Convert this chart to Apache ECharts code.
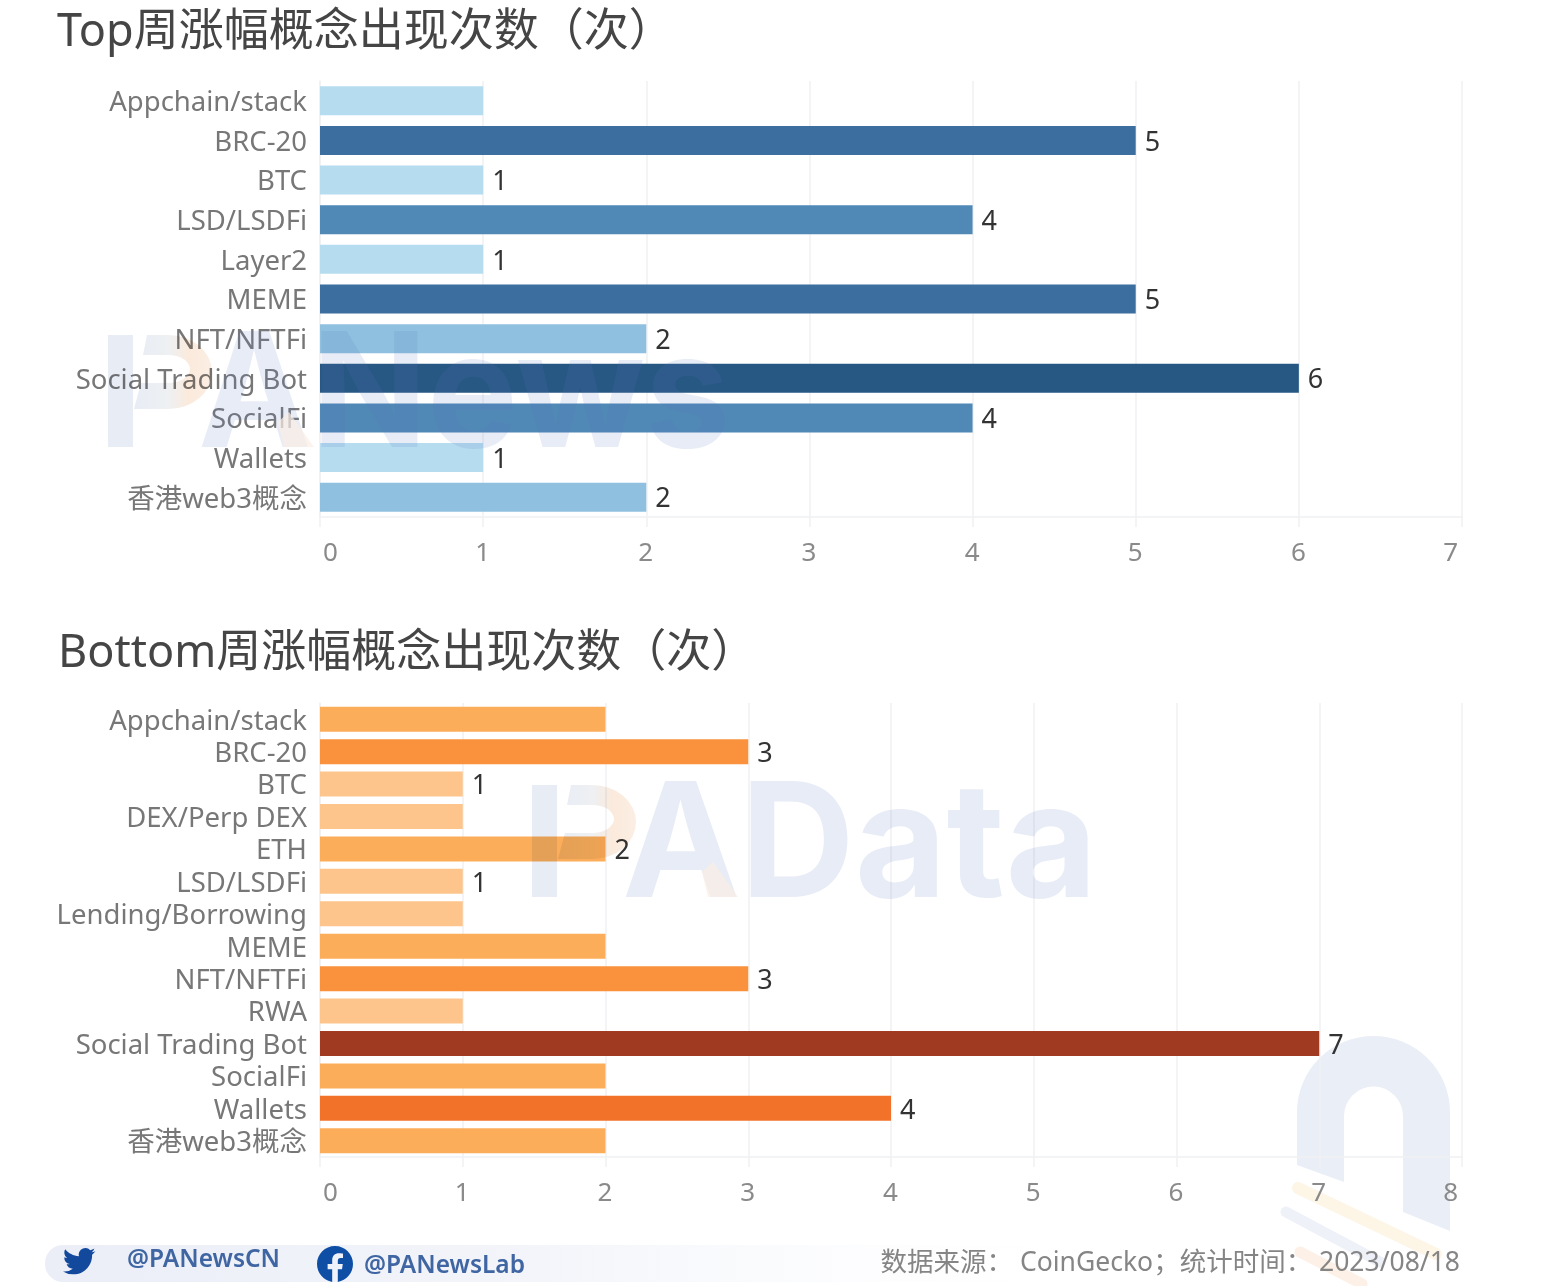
<!DOCTYPE html>
<html><head><meta charset="utf-8">
<style>html,body{margin:0;padding:0;background:#fff}#c{width:1544px;height:1286px}</style>
<script src="https://cdn.jsdelivr.net/npm/echarts@6/dist/echarts.min.js"></script>
</head><body><div id="c"></div>
<script>
const topTitle = 'Top周涨幅概念出现次数（次）';
const bottomTitle = 'Bottom周涨幅概念出现次数（次）';
const topCategories = ['Appchain/stack','BRC-20','BTC','LSD/LSDFi','Layer2','MEME','NFT/NFTFi','Social Trading Bot','SocialFi','Wallets','香港web3概念'];
const topValues = [1,5,1,4,1,5,2,6,4,1,2];
const topLabelled = [false,true,true,true,true,true,true,true,true,true,true];
const bottomCategories = ['Appchain/stack','BRC-20','BTC','DEX/Perp DEX','ETH','LSD/LSDFi','Lending/Borrowing','MEME','NFT/NFTFi','RWA','Social Trading Bot','SocialFi','Wallets','香港web3概念'];
const bottomValues = [2,3,1,1,2,1,1,2,3,1,7,2,4,2];
const bottomLabelled = [false,true,true,false,true,true,false,false,true,false,true,false,true,false];
const topColors = {1:'#b6dcf0',2:'#8fc0e0',4:'#5088b6',5:'#3c6f9f',6:'#275783'};
const bottomColors = {1:'#fdc58b',2:'#fbad5a',3:'#fa923d',4:'#f2722a',7:'#a03a20'};
const topAxisMax = 7, bottomAxisMax = 8;
const sourceText = '数据来源： CoinGecko；统计时间： 2023/08/18';

const FONT = '"Noto Sans","Noto Sans CJK SC",sans-serif';
const GRID = '#f0f1f3';
function xAxis(i,max){return {gridIndex:i,type:'value',min:0,max:max,interval:1,
  axisLine:{show:true,lineStyle:{color:GRID,width:1.5}},axisTick:{show:true,length:10,lineStyle:{color:GRID,width:1.5}},
  splitLine:{show:true,lineStyle:{color:GRID,width:1.5}},
  axisLabel:{fontFamily:FONT,fontSize:26,color:'#8a8a8a',margin:24,padding:[0,4,0,3],alignMinLabel:'left',alignMaxLabel:'right',showMinLabel:true,showMaxLabel:true}};}
function yAxis(i,cats){return {gridIndex:i,type:'category',data:cats,inverse:true,
  axisLine:{show:true,lineStyle:{color:GRID,width:1.5}},axisTick:{show:false},
  axisLabel:{fontFamily:FONT,fontSize:27.5,color:'#777',margin:13,interval:0,verticalAlign:'top',lineHeight:5}};}
function series(i,vals,flags,colors,bw){return {type:'bar',xAxisIndex:i,yAxisIndex:i,barWidth:bw,
  data:vals.map((v,k)=>({value:v,itemStyle:{color:colors[v]},label:{show:flags[k]}})),
  label:{position:'right',distance:9,fontFamily:FONT,fontSize:27,color:'#333',offset:[0,2.5]},
  emphasis:{disabled:true},animation:false};}

const WM = '#e8ecf5';
const WM_OVER = 'rgba(90,120,190,0.14)';
const twitter='M23.953 4.57a10 10 0 0 1-2.825.775a4.958 4.958 0 0 0 2.163-2.723c-.951.555-2.005.959-3.127 1.184a4.92 4.92 0 0 0-8.384 4.482C7.69 8.095 4.067 6.13 1.64 3.162a4.822 4.822 0 0 0-.666 2.475c0 1.71.87 3.213 2.188 4.096a4.904 4.904 0 0 1-2.228-.616v.06a4.923 4.923 0 0 0 3.946 4.827a4.996 4.996 0 0 1-2.212.085a4.936 4.936 0 0 0 4.604 3.417a9.867 9.867 0 0 1-6.102 2.105c-.39 0-.779-.023-1.17-.067a13.995 13.995 0 0 0 7.557 2.209c9.053 0 13.998-7.496 13.998-13.985 0-.21 0-.42-.015-.63A9.935 9.935 0 0 0 24 4.59z';
const facebook='M24 12.073c0-6.627-5.373-12-12-12s-12 5.373-12 12c0 5.99 4.388 10.954 10.125 11.854v-8.385H7.078v-3.47h3.047V9.43c0-3.007 1.792-4.669 4.533-4.669 1.312 0 2.686.235 2.686.235v2.953H15.83c-1.491 0-1.956.925-1.956 1.874v2.25h3.328l-.532 3.47h-2.796v8.385C19.612 23.027 24 18.062 24 12.073z';
const nLogo='M1297 1165 L1297 1112 A76.5 76 0 0 1 1450 1112 L1450 1231 L1403 1212 L1403 1116 A29.5 29.5 0 0 0 1344 1116 L1344 1182 Z';
const pBowl='M571 785 L592 785 A44 37 0 0 1 592 859 L558 859 L565 833 L592 833 A22 14 0 0 0 592 805 L567 805 Z';
echarts.graphic.registerShape('twitterIcon',echarts.graphic.extendPath(twitter,{}));
echarts.graphic.registerShape('facebookIcon',echarts.graphic.extendPath(facebook,{}));
echarts.graphic.registerShape('nLogo',echarts.graphic.extendPath(nLogo,{}));
echarts.graphic.registerShape('pBowl',echarts.graphic.extendPath(pBowl,{}));
const bowlFill=()=>new echarts.graphic.LinearGradient(0,0,1,0,[{offset:0,color:'#e8ecf5'},{offset:.45,color:'#eef0f2'},{offset:.7,color:'#fbeadc'},{offset:1,color:'#fbeee4'}]);
function wordmark(word,dx,dy,scaleX){return [
 {type:'rect',z:50,silent:true,x:dx,y:dy,shape:{x:532,y:785,width:25,height:112},style:{fill:WM,blend:'multiply'}},
 {type:'pBowl',z:50,silent:true,x:dx,y:dy,style:{fill:bowlFill(),blend:'multiply'}},
 {type:'text',z:50,silent:true,x:622+dx,y:849+dy,scaleX:scaleX,style:{x:0,y:0,text:word,font:'bold 160px Inter,"Noto Sans",sans-serif',fill:WM_OVER,verticalAlign:'middle'}},
 {type:'polygon',z:51,silent:true,x:dx,y:dy,shape:{points:[[713,862],[738,897],[708,897],[702,872]]},style:{fill:'#fbeee4',opacity:.7}}
];}
const graphic=[
 {type:'rect',z:-1,silent:true,shape:{x:45,y:1245,width:1100,height:37,r:18},
  style:{fill:new echarts.graphic.LinearGradient(0,0,1,0,[{offset:0,color:'#ebeef7'},{offset:.45,color:'#f3f5fa'},{offset:1,color:'rgba(255,255,255,0)'}])}},
 {type:'nLogo',z:-1,silent:true,style:{fill:'#eaeef7'}},
 {type:'line',z:-1,silent:true,shape:{x1:1298,y1:1188,x2:1436,y2:1254},style:{stroke:'#fdf5e6',lineWidth:12,lineCap:'round'}},
 {type:'line',z:-1,silent:true,shape:{x1:1286,y1:1212,x2:1380,y2:1262},style:{stroke:'#eef1f8',lineWidth:11,lineCap:'round'}},
 {type:'line',z:-1,silent:true,shape:{x1:1300,y1:1252,x2:1362,y2:1284},style:{stroke:'#fdf0e6',lineWidth:11,lineCap:'round'}},
 ...wordmark('ANews',-424,-450,0.95),
 ...wordmark('AData',0,0,0.99),
 {type:'twitterIcon',z:3,silent:true,x:63,y:1245,scaleX:1.35,scaleY:1.35,style:{fill:'#13499d'}},
 {type:'facebookIcon',z:3,silent:true,x:317,y:1246,scaleX:1.5,scaleY:1.5,style:{fill:'#0e4ea5'}},
 {type:'text',z:3,silent:true,style:{x:127,y:1260,text:'@PANewsCN',font:'600 24.5px "Noto Sans",sans-serif',fill:'#3f66a3',verticalAlign:'middle'}},
 {type:'text',z:3,silent:true,style:{x:364,y:1266,text:'@PANewsLab',font:'600 24.5px "Noto Sans",sans-serif',fill:'#3f66a3',verticalAlign:'middle'}},
 {type:'text',z:3,silent:true,style:{x:1460,y:1263,text:sourceText,font:'26.5px "Noto Sans","Noto Sans CJK SC",sans-serif',fill:'#858585',align:'right',verticalAlign:'middle'}}
];

const chart=echarts.init(document.getElementById('c'),null,{renderer:'canvas'});
chart.setOption({
 backgroundColor:'#fff',animation:false,
 title:[
  {text:topTitle,left:52,top:6,textStyle:{fontFamily:FONT,fontSize:45,fontWeight:'normal',color:'#454545'}},
  {text:bottomTitle,left:53,top:627,textStyle:{fontFamily:FONT,fontSize:45,fontWeight:'normal',color:'#454545'}}
 ],
 grid:[
  {left:320,width:1142,top:81,height:436},
  {left:320,width:1142,top:703,height:454}
 ],
 xAxis:[xAxis(0,topAxisMax),xAxis(1,bottomAxisMax)],
 yAxis:[yAxis(0,topCategories),yAxis(1,bottomCategories)],
 series:[series(0,topValues,topLabelled,topColors,29),series(1,bottomValues,bottomLabelled,bottomColors,25)],
 graphic:graphic
});
</script></body></html>
